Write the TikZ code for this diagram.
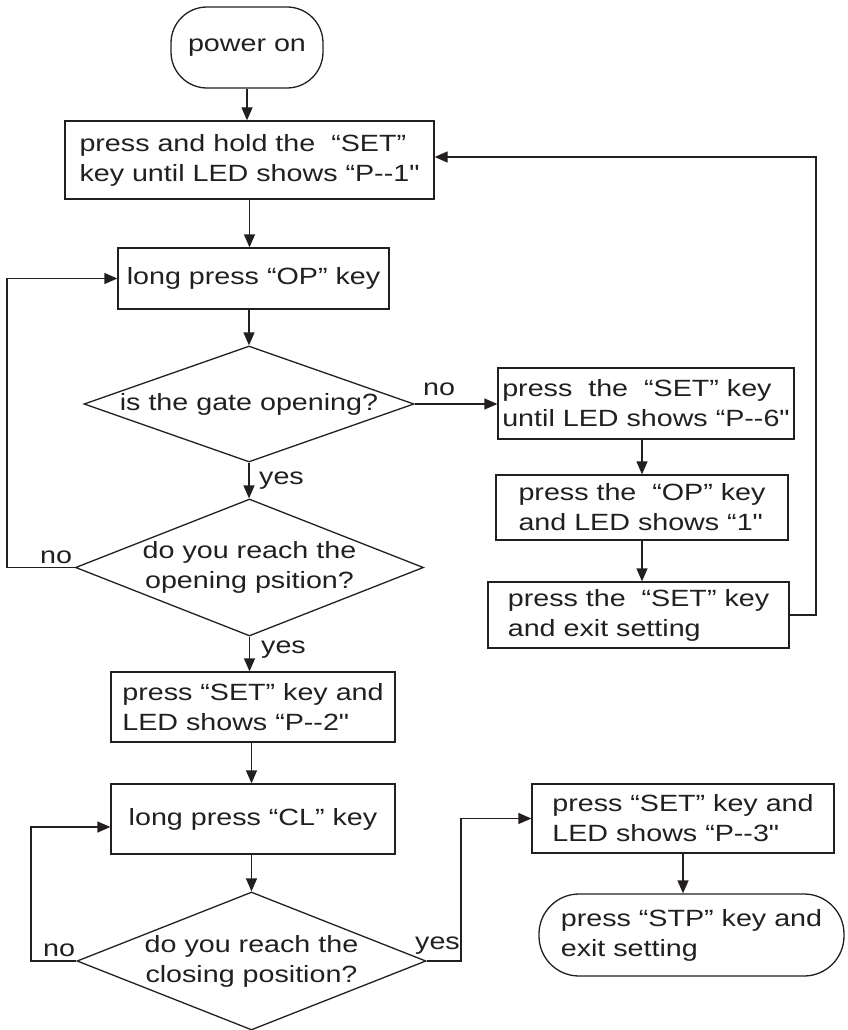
\documentclass[tikz,border=0pt]{standalone}
\usepackage{fontspec}
\newfontfamily\flowfont{Liberation Sans}[FakeStretch=1.22]
\usetikzlibrary{arrows.meta,shapes.geometric,calc}
\definecolor{ink}{RGB}{35,31,32}
\newcommand\dd{-\kern0pt-}
\begin{document}
\begin{tikzpicture}[x=1pt,y=-1pt,
  every node/.style={font=\flowfont\fontsize{23.5}{30}\selectfont, text=ink, inner sep=0pt},
  line/.style={draw=ink, line width=1.3pt},
  arr/.style={line, -{Triangle[length=13pt,width=11pt]}},
  sz/.style 2 args={minimum width=#1pt, minimum height=#2pt},
  box/.style={draw=ink, line width=1.3pt, rectangle, align=left},
  term/.style={box, rounded corners=36pt},
  dec/.style={draw=ink, line width=1.3pt, diamond, align=center},
  lab/.style={anchor=base west}]
\path[use as bounding box, fill=white] (0,0) rectangle (847,1030);

% main column
\node[term, sz={152}{81}] (pw) at (247,47.5) {power on};
\node[box, sz={369}{78}] (b1) at (249.5,160) {press and hold the\ \ “SET”\\key until LED shows “P\dd1"};
\node[box, sz={271}{61}] (b2) at (253.5,278.5) {long press “OP” key};
\node[dec, aspect=2.845, sz={330}{116}] (d1) at (249,404) {is the gate opening?};
\node[dec, aspect=2.54, sz={348}{137}] (d2) at (249.5,567.5) {do you reach the\\opening psition?};
\node[box, sz={284}{70}] (b3) at (253,707) {press “SET” key and\\LED shows “P\dd2"};
\node[box, sz={284}{70}] (b4) at (253,819) {long press “CL” key};
\node[dec, aspect=2.53, sz={349}{138}] (d3) at (251.5,961) {do you reach the\\closing position?};

% right column
\node[box, sz={296}{71}] (r1) at (646,403.5) {press\ \ the\ \ “SET” key\\until LED shows “P\dd6"};
\node[box, sz={292}{65}] (r2) at (642,507.5) {press the\ \ “OP” key\\and LED shows “1"};
\node[box, sz={301}{66}] (r3) at (638.5,615) {press the\ \ “SET” key\\and exit setting};
\node[box, sz={302}{69}] (s1) at (683,818.5) {press “SET” key and\\LED shows “P\dd3"};
\node[term, rounded corners=40pt, sz={305}{82}] (s2) at (691.5,935) {press “STP” key and\\exit setting};

% straight connectors
\draw[arr] (pw.south) -- (pw.south |- b1.north);
\draw[arr] (b1.south) -- (b1.south |- b2.north);
\draw[arr] (d1.north |- b2.south) -- (d1.north);
\draw[arr] (d1.south) -- (d1.south |- d2.north);
\draw[arr] (d2.south) -- (d2.south |- b3.north);
\draw[arr] (d3.north |- b3.south) -- (d3.north |- b4.north);
\draw[arr] (d3.north |- b4.south) -- (d3.north);
\draw[arr] (d1.east) -- (d1.east -| r1.west);
\draw[arr] (r2.north |- r1.south) -- (r2.north);
\draw[arr] (r2.south) -- (r2.south |- r3.north);
\draw[arr] (s1.south) -- (s1.south |- s2.north);

% loops
\coordinate (cA) at (7,568);
\draw[arr] (d2.west) -- (d2.west -| cA) |- (b2.west);
\coordinate (cB) at (31,827);
\draw[arr] (d3.west) -- (d3.west -| cB) -- (cB) -- (cB -| b4.west);
\coordinate (cC) at (461,819);
\draw[arr] (d3.east) -- (d3.east -| cC) |- (s1.west);
\coordinate (cD) at (816,157);
\draw[arr] (r3.east) -| (cD) -- (cD -| b1.east);

% labels
\node[lab] (ln1) at (423,395) {no};
\node[lab] (ly1) at (259,484) {yes};
\node[lab] (ln2) at (40,563) {no};
\node[lab] (ly2) at (261,653) {yes};
\node[lab] (ln3) at (43,956) {no};
\node[lab] (ly3) at (415,949) {yes};
\end{tikzpicture}
\end{document}
